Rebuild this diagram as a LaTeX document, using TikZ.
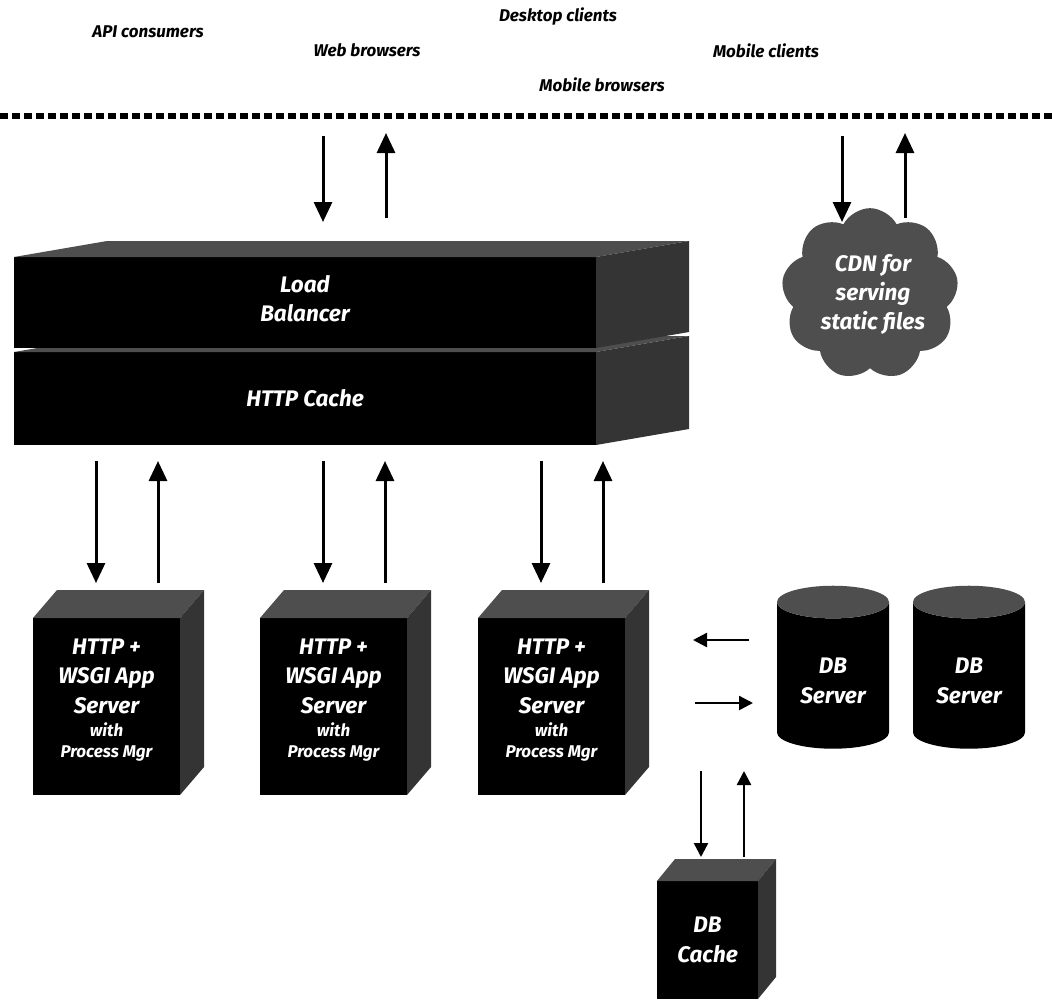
\documentclass[tikz,border=0pt]{standalone}
\usepackage{fontspec}
\setmainfont{Fira Sans}
\usetikzlibrary{arrows.meta,shapes.geometric,shapes.symbols}
\definecolor{topgray}{RGB}{78,78,78}
\definecolor{sidegray}{RGB}{52,52,52}
\tikzset{
  client/.style={font=\bfseries\itshape\fontsize{17}{20}\selectfont, text=black},
  front/.style={fill=black, text=white, inner sep=0pt, outer sep=0pt, align=center,
    font=\bfseries\itshape\fontsize{22.5}{29.5}\selectfont},
  db/.style={cylinder, shape border rotate=90, aspect=0.5, cylinder uses custom fill,
    cylinder end fill=topgray, cylinder body fill=black, minimum width=112pt,
    minimum height=163pt, inner sep=0pt, outer sep=0pt, text=white, align=center,
    font=\bfseries\itshape\fontsize{22.5}{29.5}\selectfont},
  cdn/.style={cloud, cloud puffs=9, cloud puff arc=125, aspect=1.05, fill=topgray,
    inner sep=0pt, minimum width=150pt, minimum height=140pt, text=white, align=center,
    font=\bfseries\itshape\fontsize{22.5}{29}\selectfont},
  arrow/.style={-{Triangle[length=20pt,width=18pt]}, line width=3pt},
  thinarrow/.style={-{Triangle[length=14pt,width=14pt]}, line width=2.4pt},
  dashline/.style={line width=6pt, dash pattern=on 7.5pt off 4.5pt}
}
% top and right faces of a box drawn behind its front node
\newcommand{\boxfaces}[3]{%
  \fill[topgray] (#1.north west) -- ++(#2,#3) -- ([shift={(#2,#3)}]#1.north east) -- (#1.north east) -- cycle;
  \fill[sidegray] (#1.north east) -- ++(#2,#3) -- ([shift={(#2,#3)}]#1.south east) -- (#1.south east) -- cycle;
}
\newcommand{\smalltxt}{\fontsize{17}{20}\selectfont}

\begin{document}
\begin{tikzpicture}[x=1pt, y=-1pt]
  \useasboundingbox (0,0) rectangle (1052,999);

  % clients
  \node[client] (api) at (148,32) {API consumers};
  \node[client] (web) at (367,50) {Web browsers};
  \node[client] (desk) at (558,17) {Desktop clients};
  \node[client] (mobc) at (766,51) {Mobile clients};
  \node[client] (mobb) at (602,85) {Mobile browsers};
  \coordinate (edgeL) at (0,116);
  \coordinate (edgeR) at (1052,116);
  \draw[dashline] (edgeL) -- (edgeR);

  % load balancer + http cache
  \node[front, minimum width=582pt, minimum height=93pt] (cache) at (305,398.5) {HTTP Cache};
  \boxfaces{cache}{93}{-16}
  \node[front, minimum width=582pt, minimum height=91pt] (lb) at (305,302.5) {Load\\Balancer\\[-21pt]\mbox{}};
  \boxfaces{lb}{93}{-16}

  % app servers
  \foreach \n/\x in {app1/106.5, app2/333.5, app3/551.5} {
    \node[front, minimum width=147pt, minimum height=177pt] (\n) at (\x,706.5)
      {HTTP +\\WSGI App\\Server\\[-6pt]{\smalltxt with}\\[-9pt]{\smalltxt Process Mgr}\\[-12pt]\mbox{}};
    \boxfaces{\n}{24}{-28}
  }

  % db servers and cache
  \node[db] (db1) at (833,675.5) {\mbox{}\\[-3pt]DB\\Server};
  \node[db] (db2) at (969,675.5) {\mbox{}\\[-3pt]DB\\Server};
  \node[front, minimum width=101pt, minimum height=118pt] (dbcache) at (707.5,940) {DB\\Cache};
  \boxfaces{dbcache}{18}{-22}

  % cdn
  \node[cdn] (cdn) at (870,294) {\hspace*{6pt}CDN for\\\hspace*{6pt}serving\\\hspace*{6pt}static files};

  % connectors
  \foreach \n/\x in {lbin/323, cdnin/842} {
    \coordinate (\n a) at (\x,136);
    \coordinate (\n b) at (\x,222);
    \coordinate (\n c) at (\x+63,218);
    \coordinate (\n d) at (\x+63,133);
    \draw[arrow] (\n a) -- (\n b);
    \draw[arrow] (\n c) -- (\n d);
  }
  \foreach \n/\x in {w1/96, w2/323, w3/541} {
    \coordinate (\n a) at (\x,461);
    \coordinate (\n b) at (\x,583);
    \coordinate (\n c) at (\x+62,583);
    \coordinate (\n d) at (\x+62,461);
    \draw[arrow] (\n a) -- (\n b);
    \draw[arrow] (\n c) -- (\n d);
  }
  \coordinate (dbl1) at (749,640);
  \coordinate (dbl2) at (693,640);
  \coordinate (dbr1) at (695,703);
  \coordinate (dbr2) at (753,703);
  \draw[thinarrow] (dbl1) -- (dbl2);
  \draw[thinarrow] (dbr1) -- (dbr2);
  \coordinate (dc1) at (701,771);
  \coordinate (dc2) at (701,857);
  \coordinate (dc3) at (744,857);
  \coordinate (dc4) at (744,771);
  \draw[thinarrow] (dc1) -- (dc2);
  \draw[thinarrow] (dc3) -- (dc4);
\end{tikzpicture}
\end{document}
